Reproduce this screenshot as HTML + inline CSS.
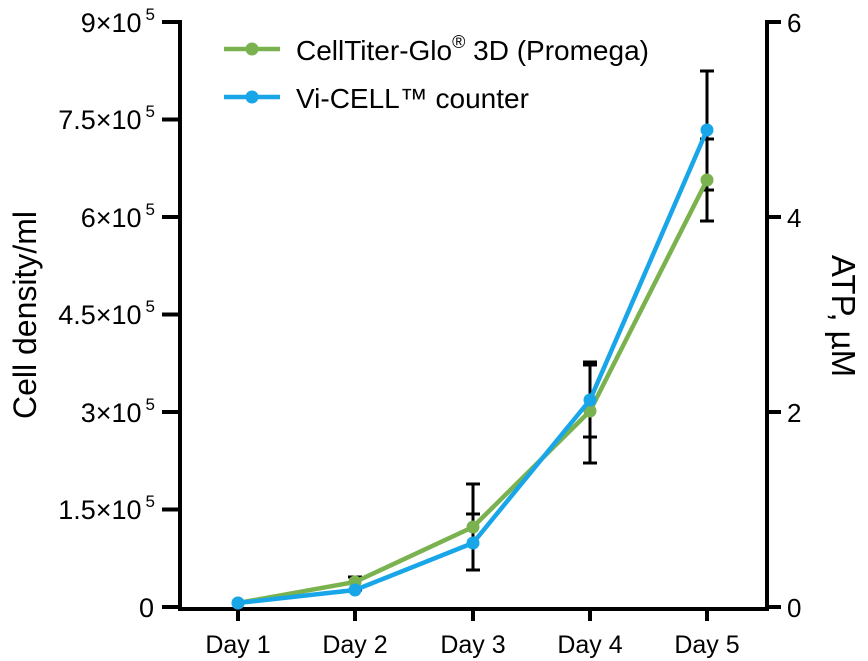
<!DOCTYPE html>
<html><head><style>body{margin:0;background:#fff}svg{display:block}text{font-family:"Liberation Sans",Arial,sans-serif;fill:#000}</style></head>
<body>
<svg width="868" height="661" viewBox="0 0 868 661">
<g stroke="#000" stroke-width="4" fill="none">
<path d="M180 20 V609 H769 M767 20 V609"/>
<path d="M162 22 H180 M162 119.5 H180 M162 217 H180 M162 314.5 H180 M162 412 H180 M162 509.5 H180 M162 607 H180"/>
<path d="M767 22 H781 M767 217 H781 M767 412 H781 M767 607 H781"/>
<path d="M238 607 V621 M355 607 V621 M473 607 V621 M590 607 V621 M707 607 V621"/>
</g>
<g stroke="#000" stroke-width="3">
<path d="M355 577 V590 M348 577 H362 M348 590 H362"/>
<path d="M473 484 V570 M466 484 H480 M466 514 H480 M466 570 H480"/>
<path d="M590 362 V463 M583 362 H597 M583 365 H597 M583 437 H597 M583 463 H597"/>
<path d="M707 71 V221 M700 71 H714 M700 139 H714 M700 190 H714 M700 221 H714"/>
</g>
<polyline points="238,603 355,582 473,527 590,411 707,180" fill="none" stroke="#7ab24f" stroke-width="4.5"/>
<g fill="#7ab24f"><circle cx="238" cy="603" r="6.5"/><circle cx="355" cy="582" r="6.5"/><circle cx="473" cy="527" r="6.5"/><circle cx="590" cy="411" r="6.5"/><circle cx="707" cy="180" r="6.5"/></g>
<polyline points="238,603 355,590 473,543 590,400 707,130" fill="none" stroke="#19a6e9" stroke-width="4.5"/>
<g fill="#19a6e9"><circle cx="238" cy="603" r="6.5"/><circle cx="355" cy="590" r="6.5"/><circle cx="473" cy="543" r="6.5"/><circle cx="590" cy="400" r="6.5"/><circle cx="707" cy="130" r="6.5"/></g>
<g font-size="27" text-anchor="end">
<text x="155" y="32">9×10<tspan font-size="17" dx="4" dy="-12">5</tspan></text>
<text x="155" y="129">7.5×10<tspan font-size="17" dx="4" dy="-12">5</tspan></text>
<text x="155" y="227">6×10<tspan font-size="17" dx="4" dy="-12">5</tspan></text>
<text x="155" y="324">4.5×10<tspan font-size="17" dx="4" dy="-12">5</tspan></text>
<text x="155" y="422">3×10<tspan font-size="17" dx="4" dy="-12">5</tspan></text>
<text x="155" y="519">1.5×10<tspan font-size="17" dx="4" dy="-12">5</tspan></text>
<text x="154" y="617">0</text>
</g>
<g font-size="26">
<text x="787" y="32">6</text><text x="787" y="227">4</text><text x="787" y="422">2</text><text x="787" y="617">0</text>
</g>
<g font-size="25" text-anchor="middle">
<text x="238" y="653">Day 1</text><text x="355" y="653">Day 2</text><text x="473" y="653">Day 3</text><text x="590" y="653">Day 4</text><text x="707" y="653">Day 5</text>
</g>
<text font-size="32" text-anchor="middle" transform="translate(36 315) rotate(-90)">Cell density/ml</text>
<text font-size="33" text-anchor="middle" transform="translate(832 316) rotate(90)">ATP, µM</text>
<line x1="224" y1="49" x2="280" y2="49" stroke="#7ab24f" stroke-width="4.5"/><circle cx="252" cy="49" r="6.5" fill="#7ab24f"/>
<line x1="224" y1="97" x2="280" y2="97" stroke="#19a6e9" stroke-width="4.5"/><circle cx="252" cy="97" r="6.5" fill="#19a6e9"/>
<text x="296" y="60" font-size="28">CellTiter-Glo<tspan font-size="18" dy="-12">®</tspan><tspan dy="12"> 3D (Promega)</tspan></text>
<text x="296" y="108" font-size="28">Vi-CELL™ counter</text>
</svg>
</body></html>
